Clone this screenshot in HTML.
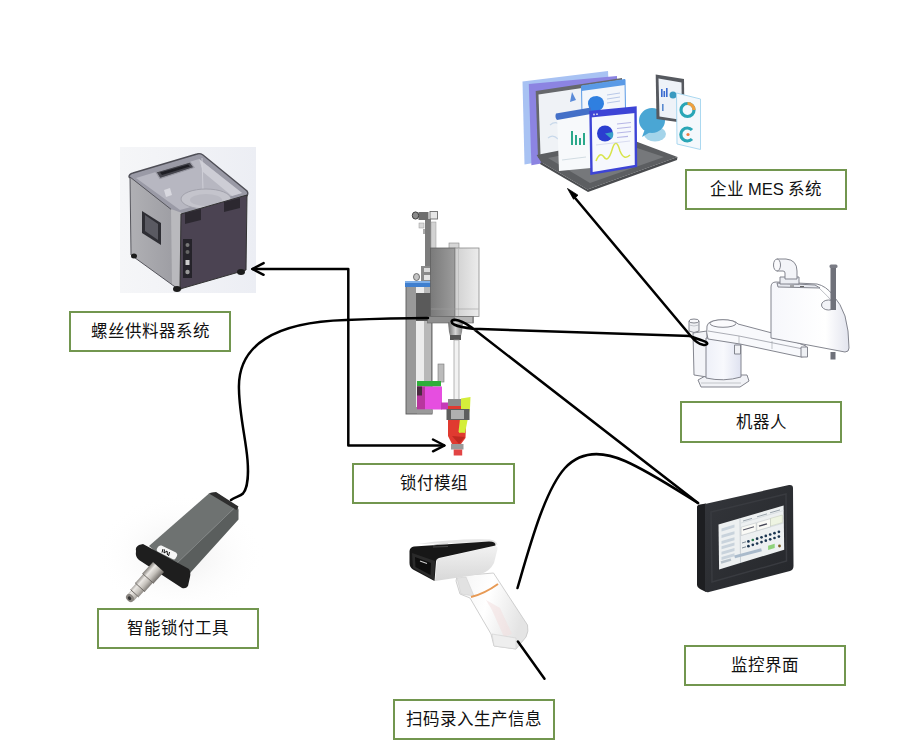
<!DOCTYPE html>
<html lang="zh-CN"><head><meta charset="utf-8">
<style>
html,body{margin:0;padding:0;background:#fff;}
body{width:917px;height:753px;position:relative;overflow:hidden;font-family:"Liberation Sans",sans-serif;}
.box{position:absolute;box-sizing:border-box;border:2px solid #72964f;background:#fff;display:flex;align-items:center;justify-content:center;font-size:16.5px;color:#111;font-weight:300;padding-bottom:3px;}
svg{position:absolute;left:0;top:0;}
</style></head><body>
<svg id="art" width="917" height="753" viewBox="0 0 917 753">
<g id="feeder">
  <defs>
    <linearGradient id="fbg" x1="0" y1="0" x2="1" y2="0">
      <stop offset="0" stop-color="#f5f6f8"/><stop offset="0.5" stop-color="#f1f2f6"/><stop offset="1" stop-color="#eceef4"/>
    </linearGradient>
    <linearGradient id="fleft" x1="0" y1="0" x2="1" y2="0">
      <stop offset="0" stop-color="#b0b0b4"/><stop offset="1" stop-color="#9c9ca2"/>
    </linearGradient>
    <linearGradient id="ftop" x1="0" y1="0" x2="1" y2="1">
      <stop offset="0" stop-color="#a8a8b2"/><stop offset="1" stop-color="#c8c8d0"/>
    </linearGradient>
  </defs>
  <rect x="120" y="147" width="136" height="146" fill="url(#fbg)"/>
  <!-- top face -->
  <path d="M129,177 Q129,174 133,173 L197,154 Q200,153 203,155 L247,191 Q249,194 246,197 L181,215 Q178,216 175,214 Z" fill="#9a9aa6" stroke="#4e4e56" stroke-width="1.4"/>
  <path d="M136,178 L199,159 L242,193 L180,210 Z" fill="#b7b7c1"/>
  <path d="M199,159 L242,193 L232,196 L203,172 Z" fill="#cdcdd5"/>
  <path d="M202,158 L203,190" stroke="#d4d4dc" stroke-width="0.8"/>
  <ellipse cx="206" cy="199" rx="25" ry="10" fill="#c4c4cc" stroke="#a2a2ac" stroke-width="1"/>
  <ellipse cx="206" cy="200" rx="16" ry="6" fill="#b9b9c2"/>
  <path d="M156,172 L190,162 L194,167.5 L160,178.5 Z" fill="#45454d" stroke="#9a9aa4" stroke-width="1.2"/>
  <path d="M160,172.5 L188,164.5 L190,166.5 L162,175 Z" fill="#1e1e24"/>
  <path d="M164,190 L170,188 L172,195 L166,197 Z" fill="#e0e0e6" opacity="0.8"/>
  <!-- left face -->
  <path d="M130,177 L177,214 L178,289 L131,255 Z" fill="url(#fleft)" stroke="#55555c" stroke-width="1"/>
  <path d="M171,209 L182,213 L182,290 L172,284 Z" fill="#b9b9bd"/>
  <!-- right face -->
  <path d="M181,214 L247,195 L246,270 L180,289 Z" fill="#4b4352" stroke="#333" stroke-width="1"/>
  <!-- window on left face -->
  <path d="M142,211 L161,223 L161,245 L142,233 Z" fill="#2e2e34"/>
  <path d="M145,215 L158,224 L158,240 L145,231 Z" fill="#5a5a62"/>
  <!-- handles on right face -->
  <path d="M185,213 L201,209 L201,220 L185,224 Z" fill="#2c2830"/>
  <path d="M224,202 L240,198 L240,208 L224,212 Z" fill="#2c2830"/>
  <!-- control column -->
  <rect x="183" y="239" width="9" height="39" fill="#25232a"/>
  <circle cx="187.5" cy="245" r="2" fill="#777"/>
  <circle cx="187.5" cy="252" r="2" fill="#666"/>
  <rect x="185.5" y="260" width="4" height="5" fill="#ccc"/>
  <circle cx="187.5" cy="272" r="2.2" fill="#999"/>
  <!-- feet -->
  <ellipse cx="177" cy="289" rx="4" ry="3" fill="#1c1c1c"/>
  <ellipse cx="241" cy="272" rx="4" ry="3" fill="#1c1c1c"/>
  <ellipse cx="134" cy="256" rx="3" ry="2.5" fill="#1c1c1c"/>
</g>

<g id="module">
  <defs>
    <linearGradient id="mrod" x1="0" y1="0" x2="1" y2="0">
      <stop offset="0" stop-color="#8c8c8c"/><stop offset="0.5" stop-color="#c8c8c8"/><stop offset="1" stop-color="#9a9a9a"/>
    </linearGradient>
    <linearGradient id="mspin" x1="0" y1="0" x2="1" y2="0">
      <stop offset="0" stop-color="#6a6a6a"/><stop offset="0.5" stop-color="#d6d6d6"/><stop offset="1" stop-color="#7a7a7a"/>
    </linearGradient>
  </defs>
  <!-- top fitting -->
  <rect x="425" y="219" width="6" height="62" fill="#7c7c7c"/>
  <rect x="431" y="222" width="5" height="27" fill="#d2d2d2" stroke="#999" stroke-width="0.5"/>
  <rect x="430" y="211.5" width="7.5" height="7.5" fill="#e6e6e6" stroke="#6a6a6a" stroke-width="0.9"/>
  <rect x="418.5" y="212" width="10" height="8" fill="#6e6e6e"/>
  <ellipse cx="415.5" cy="215.5" rx="3.2" ry="3.6" fill="#8a8a8a" stroke="#3a3a3a" stroke-width="1"/>
  <rect x="419" y="223" width="5" height="5" fill="#d8d8d8" stroke="#999" stroke-width="0.5"/>
  <rect x="423" y="229" width="2" height="5" fill="#aaa"/>
  <!-- fittings near blue bar -->
  <rect x="421" y="266" width="10" height="15" fill="#8a8a8a"/>
  <rect x="424" y="268" width="6" height="4" fill="#dadada"/>
  <rect x="424" y="275" width="7" height="5" fill="#e4e4e4"/>
  <ellipse cx="416.5" cy="277" rx="3" ry="3.5" fill="#c4c4c4" stroke="#555" stroke-width="0.8"/>
  <!-- frame plate -->
  <rect x="406" y="284" width="26" height="130" fill="#999999" stroke="#5a5a5a" stroke-width="0.9"/>
  <rect x="416" y="287" width="8" height="120" fill="#ececec"/>
  <rect x="424" y="287" width="7" height="95" fill="#b8b8b8"/>
  <!-- blue bar -->
  <rect x="405" y="281" width="28" height="6" fill="#3f7fcf"/>
  <rect x="405" y="281" width="28" height="2" fill="#7fb0ea"/>
  <!-- dark block -->
  <rect x="416" y="293" width="15" height="28" fill="#5a5a5a"/>
  <!-- motor box -->
  <linearGradient id="mfront" x1="0" y1="0" x2="1" y2="0">
    <stop offset="0" stop-color="#7a7a7a"/><stop offset="1" stop-color="#9c9c9c"/>
  </linearGradient>
  <linearGradient id="mright" x1="0" y1="0" x2="1" y2="0">
    <stop offset="0" stop-color="#d0d0d0"/><stop offset="1" stop-color="#ececec"/>
  </linearGradient>
  <rect x="449" y="243" width="10" height="5.5" fill="#d6d6d6" stroke="#888" stroke-width="0.6"/>
  <rect x="430.5" y="248" width="24.5" height="68.5" fill="url(#mfront)" stroke="#606060" stroke-width="0.8"/>
  <rect x="455" y="248" width="24" height="68.5" fill="url(#mright)" stroke="#8a8a8a" stroke-width="0.8"/>
  <path d="M458.5,249 L458.5,316" stroke="#bdbdbd" stroke-width="0.8"/>
  <path d="M431,309 L478.5,309" stroke="#a0a0a0" stroke-width="0.6"/>
  <rect x="427.5" y="316.5" width="46" height="6.5" fill="#8e8e8e" stroke="#666" stroke-width="0.6"/>
  <rect x="455" y="317" width="17" height="5.5" fill="#b6b6b6"/>
  <!-- spindle -->
  <path d="M448,322 L463,322 L462,332 L460,340 L451,340 L449,332 Z" fill="url(#mspin)"/>
  <rect x="450" y="335" width="11" height="5" fill="#555"/>
  <!-- thin rod -->
  <rect x="454" y="340" width="5" height="62" fill="#f2f2f2" stroke="#9a9a9a" stroke-width="0.7"/>
  <!-- small part -->
  <rect x="438" y="364" width="6" height="18" fill="#bbb" stroke="#777" stroke-width="0.6"/>
  <!-- green + magenta -->
  <rect x="417" y="381" width="24" height="5.5" fill="#2fae3a"/>
  <rect x="417" y="386.5" width="25" height="23" fill="#e64ee0"/>
  <rect x="417" y="386.5" width="8" height="23" fill="#b8369e"/>
  <rect x="417" y="386.5" width="5" height="9" fill="#4a2a40"/>
  <rect x="441" y="402.5" width="9" height="7" fill="#c53cb8"/>
  <rect x="417" y="409.5" width="16" height="4" fill="#9a9a9a"/>
  <!-- nozzle -->
  <rect x="448" y="399" width="13" height="7" fill="#8a8a8a"/>
  <path d="M448,406 L462,406 L466,425 L465.5,438 L461,444 L452,444 L448,436 Z" fill="#e03a30"/>
  <path d="M461,398.5 L470.5,397 L470,408 L465,433 L458.5,432 L461,410 Z" fill="#d4ee3a"/>
  <rect x="446.5" y="409" width="23" height="11" fill="#5e5e5e"/>
  <rect x="451" y="410" width="13" height="9" fill="#b0b0b0"/>
  <path d="M461,421 L466.5,420 L464,432 L459,433 Z" fill="#d4ee3a"/>
  <path d="M452,436 L459,444 L465,437" fill="#c02a22"/>
  <rect x="451" y="444" width="12.5" height="5.5" fill="#9a9a9a"/>
  <rect x="453.7" y="449.5" width="8.5" height="6" fill="#e24444"/>
</g>
</g>
<g id="robot" stroke="#7d8089" stroke-width="0.95" stroke-linejoin="round">
  <defs>
    <linearGradient id="rbody" x1="0" y1="0" x2="1" y2="0">
      <stop offset="0" stop-color="#f6f7fb"/><stop offset="0.7" stop-color="#ffffff"/><stop offset="1" stop-color="#e2e4ee"/>
    </linearGradient>
    <linearGradient id="rcyl" x1="0" y1="0" x2="1" y2="0">
      <stop offset="0" stop-color="#eef0f8"/><stop offset="0.5" stop-color="#f8f9fd"/><stop offset="1" stop-color="#dfe2f0"/>
    </linearGradient>
  </defs>
  <!-- base plate -->
  <path d="M698,380 L707,375 L747,375 L749,381 L740,387 L701,387 Z" fill="#f1f2f6"/>
  <path d="M701,383 L741,383" fill="none" stroke="#a4a7b0" stroke-width="0.6"/>
  <!-- left box -->
  <path d="M693,333 L707,331 L707,377 L694,375 Z" fill="#f3f4f8"/>
  <!-- base cylinder -->
  <path d="M706,338 L741,338 L741,377 Q724,382 706,378 Z" fill="url(#rcyl)"/>
  <!-- small box on cylinder -->
  <rect x="734.5" y="345" width="6" height="9" fill="#f0f1f5"/>
  <!-- knob -->
  <path d="M689,321 Q694,318 699,321 L699,331 Q694,334 689,331 Z" fill="#eeeff3"/>
  <ellipse cx="694" cy="321" rx="5" ry="2" fill="#f8f8fb"/>
  <path d="M689,325 Q694,327 699,325" fill="none" stroke="#a4a7b0" stroke-width="0.6"/>
  <!-- arm 1 -->
  <path d="M707,326 Q708,320 722,320 Q736,320 738,324 L772,333 L806,346 L807,356 L801,357 L740,344 L708,339 Q706,333 707,326 Z" fill="#f8f9fc"/>
  <path d="M708,331 L739,336 L803,349" fill="none" stroke="#8a8d96" stroke-width="0.7"/>
  <path d="M739,336 L739,344 M772,341 L772,349" fill="none" stroke="#9a9da6" stroke-width="0.6"/>
  <ellipse cx="723" cy="323.5" rx="13" ry="3.8" fill="#fbfbfd"/>
  <rect x="801" y="347" width="6.5" height="10" fill="#eef0f4"/>
  <!-- arm 2 body -->
  <path d="M771,287 Q771,282 776,282 L817,284 Q826,286 833,295 Q841,304 845,316 Q849,330 849,348 Q849,352 845,352 L771,338 Z" fill="url(#rbody)"/>
  <path d="M777,283 L815,285 L820,288 L778,287 Z" fill="#e6e8ee"/>
  <path d="M818,287 Q828,296 836,306" fill="none" stroke="#a0a3ab" stroke-width="0.7"/>
  <path d="M790,286 L794,286 M800,286.5 L804,286.5" fill="none" stroke="#666" stroke-width="1.2"/>
  <ellipse cx="828.5" cy="305" rx="7" ry="5" fill="#f2f3f7"/>
  <!-- cable elbow -->
  <path d="M780,277 L799,277 L799,284 L780,284 Z" fill="#eceef3"/>
  <path d="M777,259 L786,259 Q797,260 797,271 L797,279 L785,279 L785,273 Q785,271 783,271 L777,271 Z" fill="#f3f4f8"/>
  <ellipse cx="777" cy="265" rx="3.5" ry="6" fill="#fafafc"/>
  <!-- rod -->
  <rect x="830.5" y="267" width="5.5" height="43" fill="#6f717a" stroke="none"/>
  <rect x="829.5" y="264.5" width="8" height="3.5" rx="1.5" fill="#7a7c85" stroke="none"/>
  <rect x="830.5" y="352" width="5" height="7.5" fill="#6f717a" stroke="none"/>
</g>

<g id="hmi">
  <defs>
    <linearGradient id="hbez" x1="0" y1="0" x2="1" y2="1">
      <stop offset="0" stop-color="#34363b"/><stop offset="1" stop-color="#25272b"/>
    </linearGradient>
  </defs>
  <!-- side -->
  <path d="M697,507 Q697,505 700,504.5 L706,503.5 L706,592 L700,589 Q697,587.5 697,585 Z" fill="#1d1e21"/>
  <!-- front bezel -->
  <path d="M705,504 L789,485 Q793,484.5 793,488 L793.5,566 Q793.5,570 790,571 L709,592 Q705,593 705,589 Z" fill="url(#hbez)"/>
  <path d="M711,512 L786,494 L786.5,561 L712,582 Z" fill="none" stroke="#393b40" stroke-width="1.5"/>
  <!-- screen -->
  <path d="M718.5,524.6 L783.6,505.5 L784.2,549.7 L719.1,569.4 Z" fill="#edf0f1"/>
  <g stroke="none">
    <path d="M740,518.3 L740.5,563" stroke="#b9c2c8" stroke-width="0.7"/>
    <path d="M741,523 L783.6,510.5" stroke="#c4ccd2" stroke-width="0.5"/>
    <path d="M741,535.5 L783.8,523" stroke="#c4ccd2" stroke-width="0.5"/>
    <path d="M743,521 L752,518.4 M757,516.8 L767,513.9 M770,512.8 L780,509.9" stroke="#9aa4ac" stroke-width="1"/>
    <path d="M741.2,527.2 L756.2,522.8 L756.2,531 L741.2,535.4 Z" fill="#fafaf6" stroke="#a8b0b6" stroke-width="0.4"/>
    <path d="M756.8,522.6 L770.5,518.6 L770.5,526.8 L756.8,530.8 Z" fill="#fafaf6" stroke="#a8b0b6" stroke-width="0.4"/>
    <path d="M770.5,518.4 L782.4,515 L782.4,522.6 L770.5,526 Z" fill="#eef4e2" stroke="#b8c0a8" stroke-width="0.4"/>
    <path d="M743,530 L754,526.8" stroke="#556" stroke-width="1.1"/>
    <path d="M759,526.2 L767,523.8" stroke="#445" stroke-width="1.3"/>
    <path d="M742,543 L746,541.8 M742,548 L746,546.8" stroke="#7a8894" stroke-width="1"/>
    <path d="M721.5,531.4 L734.5,527.6 L734.5,524.6 L721.5,528.4 Z" fill="#c9d3dc"/>
    <path d="M721.5,538.0 L734.5,534.2 L734.5,531.2 L721.5,535.0 Z" fill="#c9d3dc"/>
    <path d="M721.5,544.0 L734.5,540.2 L734.5,537.2 L721.5,541.0 Z" fill="#c9d3dc"/>
    <path d="M721.5,549.3 L734.5,545.5 L734.5,542.5 L721.5,546.3 Z" fill="#c9d3dc"/>
    <path d="M721.5,554.7 L734.5,550.9 L734.5,547.9 L721.5,551.7 Z" fill="#c9d3dc"/>
    <path d="M721.5,560.0 L734.5,556.2 L734.5,553.2 L721.5,557.0 Z" fill="#c9d3dc"/>
    <circle cx="748.4" cy="541.4" r="1.35" fill="#1b3550"/>
    <circle cx="752.8" cy="540.0" r="1.35" fill="#2a7a4a"/>
    <circle cx="757.1" cy="538.7" r="1.35" fill="#1b3550"/>
    <circle cx="761.5" cy="537.3" r="1.35" fill="#1b3550"/>
    <circle cx="765.8" cy="535.9" r="1.35" fill="#1b3550"/>
    <circle cx="770.2" cy="534.5" r="1.35" fill="#1b3550"/>
    <circle cx="774.5" cy="533.2" r="1.35" fill="#1b3550"/>
    <circle cx="778.9" cy="531.8" r="1.35" fill="#1b3550"/>
    <circle cx="748.4" cy="546.2" r="1.35" fill="#1b3550"/>
    <circle cx="752.8" cy="544.8" r="1.35" fill="#1b3550"/>
    <circle cx="757.1" cy="543.5" r="1.35" fill="#1b3550"/>
    <circle cx="761.5" cy="542.1" r="1.35" fill="#1b3550"/>
    <circle cx="765.8" cy="540.7" r="1.35" fill="#1b3550"/>
    <circle cx="770.2" cy="539.3" r="1.35" fill="#1b3550"/>
    <circle cx="774.5" cy="538.0" r="1.35" fill="#1b3550"/>
    <circle cx="778.9" cy="536.6" r="1.35" fill="#1b3550"/>
    <path d="M768.1,545.8 L774.7,543.8 L774.7,547.9 L768.1,549.9 Z" fill="#8ed27a"/>
    <circle cx="779.5" cy="546" r="1.4" fill="#7a5a20"/>
    <path d="M734.6,556.9 L761.5,549.7" stroke="#a9bacb" stroke-width="3"/>
    <path d="M721,562.5 L731,559.6" stroke="#b5c0c9" stroke-width="2.5"/>
  </g>
</g>

<g id="scanner">
  <defs>
    <linearGradient id="shandle" x1="0" y1="0" x2="1" y2="0.3">
      <stop offset="0" stop-color="#f4f4f4"/><stop offset="0.5" stop-color="#ffffff"/><stop offset="1" stop-color="#e4e4e4"/>
    </linearGradient>
    <linearGradient id="shead" x1="0" y1="0" x2="0" y2="1">
      <stop offset="0" stop-color="#f2f2f2"/><stop offset="1" stop-color="#d8d8d8"/>
    </linearGradient>
  </defs>
  <!-- handle -->
  <path d="M457,576 L493.5,573 L527.5,625 Q529,631 526,637 L516,649 L494,646 L491,634 L470,598 L460,594 L456,581 Z" fill="url(#shandle)" stroke="#c9c9c9" stroke-width="0.9"/>
  <path d="M457,578 L466,577 L474,596 L461,594 Z" fill="#e2e2e2" stroke="#cfcfcf" stroke-width="0.6"/>
  <path d="M486,600 L500,608 L512,634 L504,637 L492,610 Z" fill="#f2dede" opacity="0.55"/>
  <path d="M492,634 L516,638 L516,649 L494,646 Z" fill="#eeeeee" stroke="#d0d0d0" stroke-width="0.6"/>
  <!-- orange ring -->
  <path d="M471,597 Q484,594 498,584" fill="none" stroke="#e79a55" stroke-width="2"/>
  <!-- head white body -->
  <path d="M437,559 L494,546 Q498,545.5 497.5,549 L494,563 Q490,571 481,574 L462,577 L435,581 Z" fill="url(#shead)"/>
  <path d="M418,544 Q455,538.5 490,539.5 Q497,540.5 497.5,545 L490,542 Z" fill="#e4e4e4"/>
  <!-- black top -->
  <path d="M409.5,551 Q410,547 414,546.5 L489,541.5 Q496,541.5 495.5,545.5 L439,558 Q436,559 436,562 L434.5,581 L413,569.5 Q409.5,567 409.5,563 Z" fill="#171717"/>
  <path d="M412,553 L435,561 L434,580 L413,568 Z" fill="#2a2a2a"/>
  <path d="M415,557 L431,563 L430.5,575 L415.5,567 Z" fill="#0e0e0e"/>
  <path d="M420,561 L427,563.5" stroke="#cfcfcf" stroke-width="1.2"/>
  <path d="M433,545.5 Q437,544 448,544 M433,547 L448,546.5" stroke="#777" stroke-width="0.5" fill="none"/>
</g>
<g id="tool">
  <defs>
    <linearGradient id="tmetal" x1="0" y1="0" x2="1" y2="1">
      <stop offset="0" stop-color="#8a8a86"/><stop offset="0.45" stop-color="#e6e6e2"/><stop offset="1" stop-color="#7a7a76"/>
    </linearGradient>
  </defs>
  <!-- cable -->
  
  <radialGradient id="tshadow" cx="0.5" cy="0.5" r="0.5">
    <stop offset="0" stop-color="#ececec" stop-opacity="0.9"/><stop offset="1" stop-color="#ffffff" stop-opacity="0"/>
  </radialGradient>
  <ellipse cx="180" cy="555" rx="85" ry="62" fill="url(#tshadow)"/>
  <!-- body: top face -->
  <path d="M149,546 L209,493.5 Q212,491.5 216,492.5 L236.5,506 L173,567 Z" fill="#6e7271"/>
  <!-- body: front/right face -->
  <path d="M173,567 L236.5,506 Q239,508 238.5,512 L238.5,519.5 L186,577.5 L180,577 Z" fill="#5a5e5d"/>
  <path d="M173,567 L236.5,506" stroke="#7e8281" stroke-width="0.8"/>
  <path d="M209,493.5 L216,492 L238.5,506.5 L236.5,510 Z" fill="#2e2e2e"/>
  <!-- flange -->
  <path d="M136,551 Q135,547 139,545 L143,544 L189,569 Q191,572 190,577 L188,586 Q186,589 182,588 L139,560 Q135,557 136,551 Z" fill="#1e1e1e"/>
  <!-- connector -->
  <linearGradient id="tmet2" gradientUnits="userSpaceOnUse" x1="139" y1="576.7" x2="151" y2="587.3">
    <stop offset="0" stop-color="#77736e"/><stop offset="0.3" stop-color="#ebe8e4"/><stop offset="0.6" stop-color="#c4c0ba"/><stop offset="1" stop-color="#6a6662"/>
  </linearGradient>
  <path d="M158.5,567 L148,578.4" stroke="url(#tmet2)" stroke-width="15" fill="none"/>
  <path d="M148,578.4 L140,587.3" stroke="url(#tmet2)" stroke-width="13" fill="none"/>
  <path d="M140,587.3 L134.6,593.3" stroke="url(#tmet2)" stroke-width="11" fill="none"/>
  <path d="M134.6,593.3 L130.6,597.7" stroke="url(#tmet2)" stroke-width="9" fill="none"/>
  <path d="M142.5,573.5 L153.5,583.3" stroke="#6f6b66" stroke-width="1" fill="none"/>
  <path d="M135.2,582.9 L144.8,591.7" stroke="#6f6b66" stroke-width="1" fill="none"/>
  <path d="M130.5,589.6 L138.7,597" stroke="#6f6b66" stroke-width="1" fill="none"/>
  <ellipse cx="130" cy="598" rx="3.5" ry="4.5" transform="rotate(-42 130 598)" fill="#8a8681"/>
  <ellipse cx="129.5" cy="598.3" rx="1.6" ry="2" transform="rotate(-42 129.5 598.3)" fill="#333"/>
<!-- label -->
  <path d="M158,547 Q159,545 161.5,545.5 L176,552.5 Q178,554 177,556 L175.5,558.5 Q174.5,560 172.5,559 L157.5,551.5 Q156,550 157,548.5 Z" fill="#f6f6f6"/>
  <path d="M164.5,549.5 L164,553 L167,551 L167.5,555 M169.5,552 L168.5,556 M163,549 L162,552.5" stroke="#111" stroke-width="1" fill="none"/>
</g>
<g id="mes">
  <!-- back light blue panel -->
  <path d="M522.5,81.5 L608,71 L612,150 L524.5,164.5 Z" fill="#a8c2f3"/>
  <path d="M528.8,84 L617,76 L618,150 L531.4,165.2 Z" fill="#8c84e2"/>
  <!-- laptop screen frame -->
  <path d="M535.7,91 L622,78 L623,148 L538,158 Z" fill="#66686c"/>
  <path d="M538.5,94.5 L619,82.5 L620,146 L540.5,155 Z" fill="#eff2f6"/>
  <path d="M550,125 Q556,120 562,126 M548,138 Q553,134 558,139" stroke="#c8d8ea" stroke-width="1.2" fill="none"/>
  <path d="M572,92 L576,100 L570,102 Z" fill="#5a8ad8"/>
  <!-- keyboard base -->
  <path d="M536.6,155 L625.5,137.5 L677.5,157 L587.5,189.5 L541,162 Z" fill="#5c5e61"/>
  <path d="M548,158 L622,143 L664,157 L590,183 Z" fill="#76787b"/>
  <path d="M541,162 L587.5,189.5 L677.5,157 L677,160 L588,192 L540,164 Z" fill="#4a4c4f"/>
  <!-- back window -->
  <path d="M581.5,86 L625,79.5 L625.5,110 L582,115 Z" fill="#f3f6fb" stroke="#5a9ae6" stroke-width="1"/>
  <path d="M581.5,86 L625,79.5 L625,85 L581.5,91 Z" fill="#5a9ae6"/>
  <path d="M588,104 Q588,96 597,96 Q604,97 604,104 Q603,110 597,111 L590,111 Z" fill="#2f7fe0"/>
  <path d="M607,95 L620,93 M607,99 L620,97 M607,103 L620,101" stroke="#b8c8e8" stroke-width="1"/>
  <!-- middle window -->
  <path d="M557,114 L591,108 L591,168 L559,171 Z" fill="#f7f9fb"/>
  <path d="M556,113.5 L591,107.5 L591,114 L557,120 Q554.5,117 556,113.5 Z" fill="#4470c8"/>
  <rect x="571" y="131" width="2" height="14" fill="#2aa88a"/>
  <rect x="575" y="135" width="2" height="10" fill="#2aa88a"/>
  <rect x="579" y="138" width="2" height="7" fill="#2aa88a"/>
  <rect x="583" y="133" width="2" height="12" fill="#2aa88a"/>
  <path d="M562,160 L586,157" stroke="#c8d4dc" stroke-width="0.8"/>
  <!-- front window -->
  <path d="M590.5,112 L635.5,107.5 L636,166 L591.5,173.5 Z" fill="#f6f8fd" stroke="#3d44d6" stroke-width="2.4"/>
  <path d="M590.5,112 L635.5,107.5 L635.5,113 L590.5,117.5 Z" fill="#3d44d6"/>
  <circle cx="594" cy="114.5" r="0.9" fill="#dde"/>
  <circle cx="597" cy="114.2" r="0.9" fill="#dde"/>
  <circle cx="605" cy="133.5" r="8" fill="#2b3ed0"/>
  <path d="M605,133.5 L613,132 A8,8 0 0 1 611.5,139 Z" fill="#3aa0c8"/>
  <path d="M617,124 L631,122.5 M617,128.5 L631,127 M617,133 L631,131.5 M617,137.5 L628,136.3" stroke="#b6b6e6" stroke-width="1.2"/>
  <path d="M596,161 Q600,151 604,157 Q608,163 612,150 Q616,136 620,151 Q624,161 630,155" fill="none" stroke="#d8e44a" stroke-width="1.5"/>
  <path d="M596,145 L630,141" stroke="#d0d4ee" stroke-width="0.8"/>
  <!-- speech bubble -->
  <ellipse cx="655" cy="134" rx="11" ry="7.5" fill="#a4d4ea"/>
  <ellipse cx="652" cy="120.5" rx="13" ry="12.5" fill="#4aa6d4"/>
  <path d="M645,129 L642,137 L652,131 Z" fill="#4aa6d4"/>
  <!-- right tablet -->
  <path d="M655.7,74.5 L684,79 L684.5,123 L656.5,119 Z" fill="#56595f"/>
  <path d="M658.5,78.5 L681.5,82.5 L682,120 L659.5,116.5 Z" fill="#eef2f8"/>
  <rect x="661" y="89" width="1.6" height="8" fill="#3a6ad0"/>
  <rect x="663.5" y="91" width="1.6" height="6" fill="#3a6ad0"/>
  <rect x="666" y="88" width="1.6" height="9" fill="#3a6ad0"/>
  <circle cx="673" cy="95" r="3.5" fill="#3a9ac0"/>
  <rect x="662" y="104" width="1.6" height="7" fill="#5a8ad0"/>
  <!-- right card -->
  <path d="M676.5,93 L700.5,99 L700.5,149.5 L677,144 Z" fill="#f4f8fc" stroke="#a2d4ee" stroke-width="0.9"/>
  <circle cx="687.5" cy="110" r="6.5" fill="none" stroke="#2aa6b6" stroke-width="3.2"/>
  <path d="M687.5,103.5 A6.5,6.5 0 0 1 694,110" fill="none" stroke="#f0a040" stroke-width="3.2"/>
  <path d="M692,130 A6.5,6.5 0 1 0 692,139" fill="none" stroke="#2aa6b6" stroke-width="3.2"/>
  <circle cx="688" cy="134.5" r="1.6" fill="#f07a40"/>
</g>

<!-- LINES -->
<g fill="none" stroke="#000" stroke-width="2.5" stroke-linecap="round" stroke-linejoin="round">
  <path d="M252.5,269 L348.3,269 L348.3,445.5 L444,445.5"/>
  <path d="M263.6,263.1 L252.3,269 L263.6,274.8"/>
  <path d="M433,439.5 L444.6,445.5 L433,451.3"/>
  <path d="M231,500 C235,497 240,496.5 243,493.5 C248,488 248.5,472 247.5,460 C246,440 239.5,415 239,390 C237,345 275,322 346,320 C370,319 400,318 428,318"/>
  <path d="M690.5,336 L472.7,328.7 C466,328 459,326.8 454,324.5 C450.5,322.5 451,319.5 455,319.8 C460,320.3 466,323.5 471.4,327.3 L698,503"/>
  <path d="M690,336.2 C696,338.5 702,340 706,342 C708.5,343.5 707,345.5 703,344.8 C699,344 694,340 691.2,336.5 L573,195.5"/>
  <path d="M517.5,588 C530,545 545,490 565,468 C580,452 600,450 625,461 C650,472 680,492 698,503"/>
  <path d="M517.9,641.6 L544.5,678.7"/>
</g>
<path d="M567.5,188.5 L578,195.2 L573.5,199.2 Z" fill="#000" stroke="#000" stroke-width="0.8" stroke-linejoin="round"/>

</svg>
<div class="box" style="left:69px;top:311px;width:162px;height:41px;">螺丝供料器系统</div>
<div class="box" style="left:685px;top:169px;width:162px;height:41px;">企业 MES 系统</div>
<div class="box" style="left:680px;top:401px;width:162px;height:42px;">机器人</div>
<div class="box" style="left:352px;top:463px;width:163px;height:41px;">锁付模组</div>
<div class="box" style="left:97px;top:608px;width:162px;height:41px;">智能锁付工具</div>
<div class="box" style="left:684px;top:645px;width:162px;height:41px;">监控界面</div>
<div class="box" style="left:393px;top:699px;width:162px;height:41px;">扫码录入生产信息</div>
</body></html>
